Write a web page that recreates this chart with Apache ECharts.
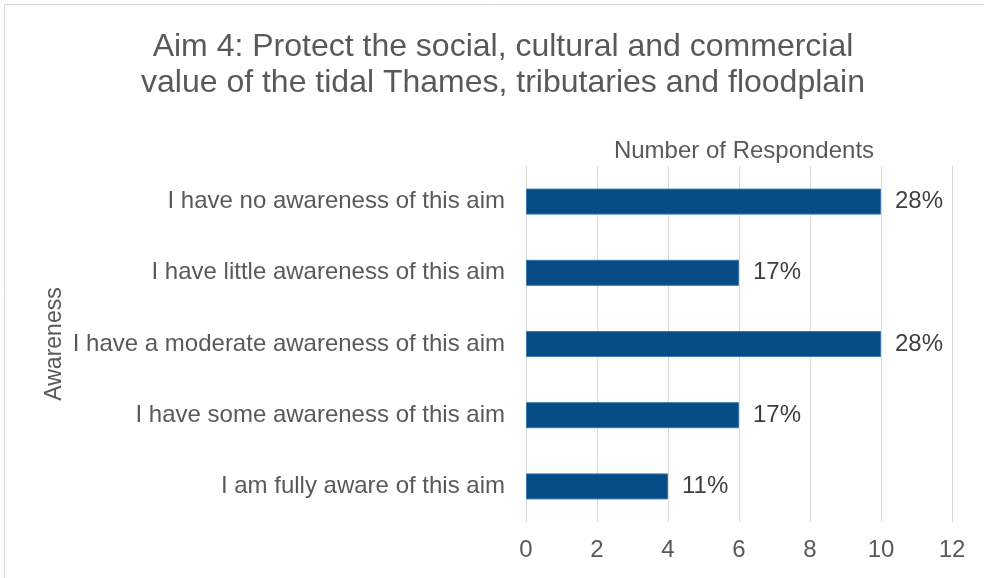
<!DOCTYPE html>
<html>
<head>
<meta charset="utf-8">
<style>
  html, body { margin: 0; padding: 0; background: #fff; }
  #chart { width: 984px; height: 578px; }
</style>
<script src="https://cdn.jsdelivr.net/npm/echarts@6/dist/echarts.min.js"></script>
</head>
<body>
<div id="chart"></div>
<script>
// Awareness levels, listed bottom to top as the category axis draws them
const categories = [
  'I am fully aware of this aim',
  'I have some awareness of this aim',
  'I have a moderate awareness of this aim',
  'I have little awareness of this aim',
  'I have no awareness of this aim'
];
const respondents = [4, 6, 10, 6, 10];
const shareLabels = ['11%', '17%', '28%', '17%', '28%'];
const xTicks = [0, 2, 4, 6, 8, 10, 12];

const FONT = '"Liberation Sans", Arial, sans-serif';
const GREY = '#595959';

const chart = echarts.init(document.getElementById('chart'), null, { renderer: 'canvas' });

chart.setOption({
  animation: false,
  backgroundColor: '#ffffff',
  title: [
    {
      text: 'Aim 4: Protect the social, cultural and commercial\nvalue of the tidal Thames, tributaries and floodplain',
      left: 498,
      top: 24,
      textAlign: 'center',
      textStyle: { fontFamily: FONT, fontSize: 32, fontWeight: 'normal', color: GREY, lineHeight: 36 }
    },
    {
      text: 'Number of Respondents',
      left: 739,
      top: 134,
      textAlign: 'center',
      textStyle: { fontFamily: FONT, fontSize: 24, fontWeight: 'normal', color: GREY }
    }
  ],
  graphic: [
    {
      type: 'rect',
      shape: { x: 4.5, y: 4.5, width: 990, height: 590, r: 0 },
      style: { fill: 'none', stroke: '#d9d9d9', lineWidth: 1 },
      silent: true
    }
  ],
  grid: { left: 526, right: 32, top: 166, bottom: 56, containLabel: false },
  xAxis: {
    type: 'value',
    min: xTicks[0],
    max: xTicks[xTicks.length - 1],
    interval: 2,
    axisLine: { show: false },
    axisTick: { show: false },
    axisLabel: { fontFamily: FONT, fontSize: 24, color: GREY, margin: 16 },
    splitLine: { show: true, lineStyle: { color: '#d9d9d9', width: 1 } }
  },
  yAxis: {
    type: 'category',
    data: categories,
    name: 'Awareness',
    nameLocation: 'middle',
    nameGap: 460,
    nameRotate: 90,
    nameTextStyle: { fontFamily: FONT, fontSize: 23, color: GREY },
    axisLine: { show: true, lineStyle: { color: '#d9d9d9' } },
    axisTick: { show: false },
    axisLabel: { fontFamily: FONT, fontSize: 24, color: GREY, margin: 21 }
  },
  series: [
    {
      type: 'bar',
      data: respondents,
      barWidth: 26,
      itemStyle: { color: '#064c87', borderColor: '#3b75ad', borderWidth: 1 },
      label: {
        show: true,
        position: 'right',
        distance: 14,
        fontFamily: FONT,
        fontSize: 24,
        color: '#404040',
        formatter: (p) => shareLabels[p.dataIndex]
      }
    }
  ]
});
</script>
</body>
</html>
